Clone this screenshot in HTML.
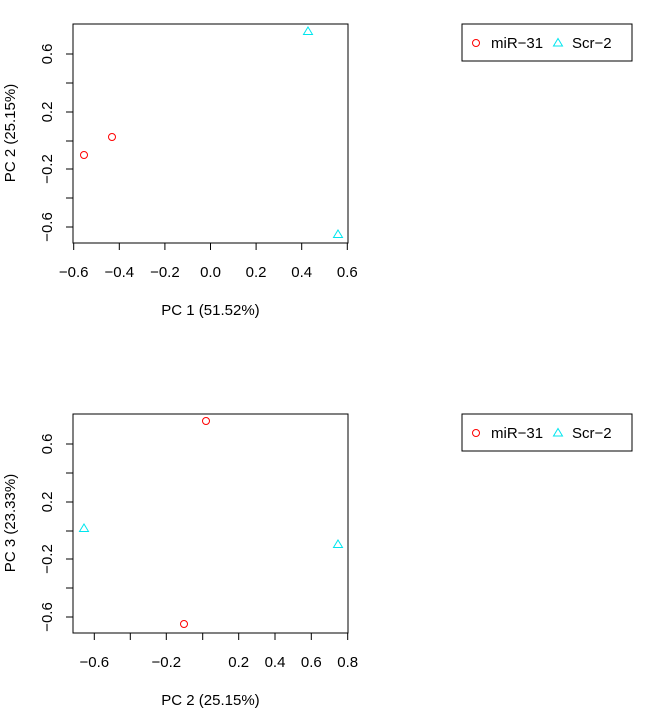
<!DOCTYPE html>
<html><head><style>body{margin:0;background:#fff}svg{display:block}</style></head><body>
<svg width="652" height="722" xmlns="http://www.w3.org/2000/svg" font-family="Liberation Sans, sans-serif" font-size="15" fill="#000">
<g stroke="#000" fill="none" stroke-width="1">
<rect x="73" y="24" width="275" height="219"/>
<path d="M73.7 243v7M119.3 243v7M164.9 243v7M210.5 243v7M256.1 243v7M301.7 243v7M347.3 243v7"/>
<path d="M73 54h-7M73 83h-7M73 112h-7M73 141h-7M73 169h-7M73 198h-7M73 227h-7"/>
<rect x="462" y="24" width="170" height="37"/>
<rect x="73" y="414" width="275" height="219"/>
<path d="M94.3 633v7M130.3 633v7M166.3 633v7M202.7 633v7M238.7 633v7M275 633v7M311.3 633v7M347.7 633v7"/>
<path d="M73 444h-7M73 473h-7M73 502h-7M73 531h-7M73 559h-7M73 588h-7M73 617h-7"/>
<rect x="462" y="414" width="170" height="37"/>
</g>
<g fill="none" stroke="#ff0000" stroke-width="1">
<circle cx="84" cy="155" r="3.5"/><circle cx="112" cy="137" r="3.5"/>
<circle cx="206" cy="421" r="3.5"/><circle cx="184" cy="624" r="3.5"/>
<circle cx="476" cy="43" r="3.5"/><circle cx="476" cy="433" r="3.5"/>
</g>
<g fill="none" stroke="#00e5ee" stroke-width="1">
<path d="M308 27l4.5 7.5h-9z"/><path d="M338 230l4.5 7.5h-9z"/>
<path d="M84 524l4.5 7.5h-9z"/><path d="M338 540l4.5 7.5h-9z"/>
<path d="M558 38.5l4.5 7.5h-9z"/><path d="M558 428.5l4.5 7.5h-9z"/>
</g>
<g text-anchor="middle">
<text x="73.7" y="277">−0.6</text><text x="119.3" y="277">−0.4</text><text x="164.9" y="277">−0.2</text><text x="210.5" y="277">0.0</text><text x="256.1" y="277">0.2</text><text x="301.7" y="277">0.4</text><text x="347.3" y="277">0.6</text>
<text x="210.5" y="315">PC 1 (51.52%)</text>
<text transform="translate(52,54) rotate(-90)">0.6</text><text transform="translate(52,112) rotate(-90)">0.2</text><text transform="translate(52,169) rotate(-90)">−0.2</text><text transform="translate(52,227) rotate(-90)">−0.6</text>
<text transform="translate(15,133) rotate(-90)">PC 2 (25.15%)</text>
<text x="94.3" y="667">−0.6</text><text x="166.3" y="667">−0.2</text><text x="238.7" y="667">0.2</text><text x="275" y="667">0.4</text><text x="311.3" y="667">0.6</text><text x="347.7" y="667">0.8</text>
<text x="210.5" y="705">PC 2 (25.15%)</text>
<text transform="translate(52,444) rotate(-90)">0.6</text><text transform="translate(52,502) rotate(-90)">0.2</text><text transform="translate(52,559) rotate(-90)">−0.2</text><text transform="translate(52,617) rotate(-90)">−0.6</text>
<text transform="translate(15,523) rotate(-90)">PC 3 (23.33%)</text>
</g>
<text x="491" y="48">miR−31</text><text x="572" y="48">Scr−2</text>
<text x="491" y="438">miR−31</text><text x="572" y="438">Scr−2</text>
</svg>
</body></html>
